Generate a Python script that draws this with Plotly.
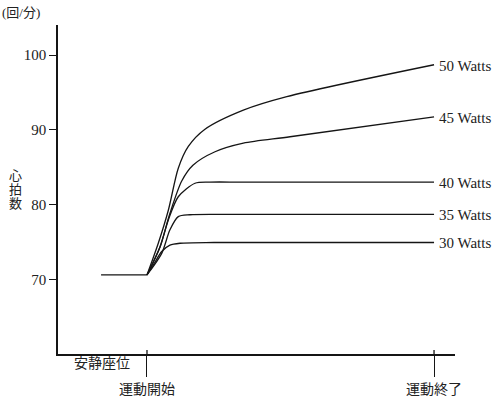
import plotly.graph_objects as go

# time axis: 0 = 運動開始, 30 = 運動終了 (arbitrary units)
rest_x = [-4.8, 0.0]
rest_y = [70.67, 70.67]

series_names = ["50 Watts", "45 Watts", "40 Watts", "35 Watts", "30 Watts"]

w50_x = [0.0, 1.18, 2.23, 3.27, 4.32, 6.06, 10.07, 14.61, 30.0]
w50_y = [70.67, 74.9, 79.3, 84.9, 87.8, 90.1, 92.65, 94.45, 98.7]

w45_x = [0.0, 1.36, 2.40, 3.63, 4.80, 7.11, 10.07, 14.95, 30.0]
w45_y = [70.67, 74.4, 78.9, 83.2, 85.3, 87.1, 88.25, 89.1, 91.75]

w40_x = [0.0, 1.36, 2.23, 3.27, 5.02, 6.58, 10.0, 30.0]
w40_y = [70.67, 74.4, 78.0, 81.1, 82.9, 83.05, 83.05, 83.05]

w35_x = [0.0, 1.54, 2.40, 3.27, 4.49, 8.0, 30.0]
w35_y = [70.67, 73.55, 76.7, 78.45, 78.7, 78.75, 78.75]

w30_x = [0.0, 0.84, 1.54, 2.40, 3.45, 7.0, 30.0]
w30_y = [70.67, 72.4, 73.8, 74.65, 74.9, 75.0, 75.0]

series_x = [w50_x, w45_x, w40_x, w35_x, w30_x]
series_y = [w50_y, w45_y, w40_y, w35_y, w30_y]

y_ticks = [70, 80, 90, 100]
x_tickvals = [0, 30]
x_ticktext = ["運動開始", "運動終了"]
rest_label = "安静座位"
y_unit = "(回/分)"
y_title_chars = ["心", "拍", "数"]

FONT = "Liberation Serif, 'Noto Sans CJK JP', serif"
LINE = "#151515"

fig = go.Figure()
fig.add_trace(go.Scatter(x=rest_x, y=rest_y, mode="lines",
                         line=dict(color=LINE, width=1.3), showlegend=False))
for name, xs, ys in zip(series_names, series_x, series_y):
    fig.add_trace(go.Scatter(x=xs, y=ys, mode="lines", name=name,
                             line=dict(color=LINE, width=1.3, shape="spline", smoothing=0.8),
                             showlegend=False))
    fig.add_annotation(x=xs[-1], y=ys[-1], text=name, showarrow=False,
                       xanchor="left", yanchor="middle", xshift=3, yshift=-1,
                       font=dict(family=FONT, size=15, color="#222"))

# plot area in px: x 58..455, y 25..354
H_PLOT = 329.0
def py(p):
    return (354 - p) / H_PLOT

fig.add_annotation(xref="paper", yref="paper", x=-58/397, y=py(12), text=y_unit,
                   showarrow=False, xanchor="left", yanchor="middle",
                   font=dict(family=FONT, size=13, color="#222"))
for ch, yc in zip(y_title_chars, [175, 189, 203]):
    fig.add_annotation(xref="paper", yref="paper", x=(15-58)/397, y=py(yc), text=ch,
                       showarrow=False, xanchor="center", yanchor="middle",
                       font=dict(family=FONT, size=13, color="#222"))
fig.add_annotation(xref="x", yref="paper", x=-4.7, y=py(363), text=rest_label,
                   showarrow=False, xanchor="center", yanchor="middle",
                   font=dict(family=FONT, size=14, color="#222"))

# small upward extension of the two x-axis tick marks
for tv in x_tickvals:
    fig.add_shape(type="line", xref="x", yref="paper", x0=tv, x1=tv,
                  y0=0, y1=py(350), line=dict(color=LINE, width=1.3))

fig.update_layout(
    width=500, height=398,
    margin=dict(l=58, r=45, t=25, b=44),
    plot_bgcolor="white", paper_bgcolor="white",
    font=dict(family=FONT, size=15, color="#222"),
    xaxis=dict(range=[-9.30, 32.19], tickvals=x_tickvals, ticktext=x_ticktext,
               ticks="outside", ticklen=21, tickwidth=1.3, tickcolor=LINE,
               showline=True, linecolor=LINE, linewidth=1.5,
               showgrid=False, zeroline=False, automargin=False,
               tickfont=dict(family=FONT, size=14, color="#222")),
    yaxis=dict(range=[60.13, 104], tickvals=y_ticks,
               ticks="outside", ticklen=7, tickwidth=1.3, tickcolor=LINE,
               showline=True, linecolor=LINE, linewidth=1.5,
               showgrid=False, zeroline=False, automargin=False,
               tickfont=dict(family=FONT, size=15, color="#222")),
)

fig.write_html("out.html")
